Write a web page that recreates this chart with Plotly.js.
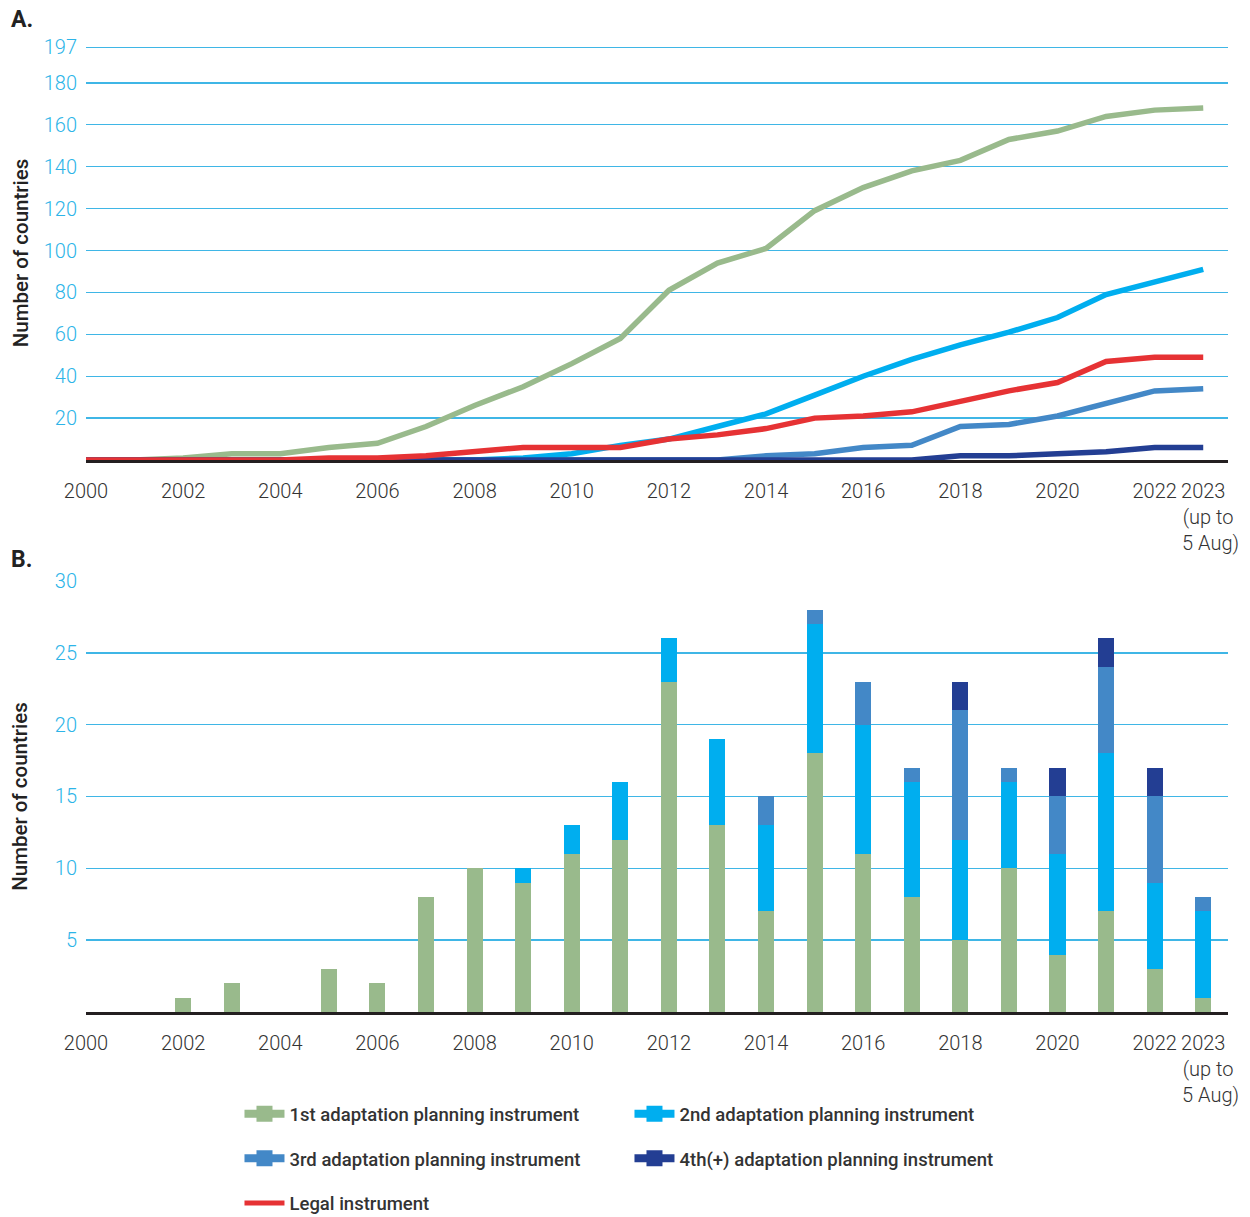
<!DOCTYPE html>
<html><head><meta charset="utf-8">
<script src="https://cdn.plot.ly/plotly-3.0.1.min.js"></script>
<style>body{margin:0;background:#fff}#chart{width:1250px;height:1217px}</style>
</head><body><div id="chart"></div>
<script>
// ---------- data ----------
const years = [2000,2001,2002,2003,2004,2005,2006,2007,2008,2009,2010,2011,2012,2013,2014,2015,2016,2017,2018,2019,2020,2021,2022,2023];

// Panel A: cumulative number of countries
const firstCum  = [0,0,1,3,3,6,8,16,26,35,46,58,81,94,101,119,130,138,143,153,157,164,167,168];
const secondCum = [0,0,0,0,0,0,0,0,0,1,3,7,10,16,22,31,40,48,55,61,68,79,85,91];
const thirdCum  = [0,0,0,0,0,0,0,0,0,0,0,0,0,0,2,3,6,7,16,17,21,27,33,34];
const fourthCum = [0,0,0,0,0,0,0,0,0,0,0,0,0,0,0,0,0,0,2,2,3,4,6,6];
const legalCum  = [0,0,0,0,0,1,1,2,4,6,6,6,10,12,15,20,21,23,28,33,37,47,49,49];

// Panel B: new instruments per year
const firstNew  = [0,0,1,2,0,3,2,8,10,9,11,12,23,13,7,18,11,8,5,10,4,7,3,1];
const secondNew = [0,0,0,0,0,0,0,0,0,1,2,4,3,6,6,9,9,8,7,6,7,11,6,6];
const thirdNew  = [0,0,0,0,0,0,0,0,0,0,0,0,0,0,2,1,3,1,9,1,4,6,6,1];
const fourthNew = [0,0,0,0,0,0,0,0,0,0,0,0,0,0,0,0,0,0,2,0,2,2,2,0];

const xTickVals = [2000,2002,2004,2006,2008,2010,2012,2014,2016,2018,2020,2022,2023];
const xTickText = ['2000','2002','2004','2006','2008','2010','2012','2014','2016','2018','2020','2022',
  '2023<br>\u00a0\u00a0(up to<br>\u00a0\u00a0\u00a05 Aug)'];
const yTickValsA = [20,40,60,80,100,120,140,160,180,197];
const yTickValsB = [5,10,15,20,25,30];

const names = {
  first: '1st adaptation planning instrument',
  second: '2nd adaptation planning instrument',
  third: '3rd adaptation planning instrument',
  fourth: '4th(+) adaptation planning instrument',
  legal: 'Legal instrument'
};
const colors = {first:'#99ba8c', second:'#00aeef', third:'#4388c7', fourth:'#233e93', legal:'#e63234'};

// ---------- traces ----------
function line(y, key){
  return {type:'scatter', mode:'lines', x:years, y:y, name:names[key], showlegend:false,
    line:{color:colors[key], width:5.5}, cliponaxis:false, xaxis:'x', yaxis:'y', hoverinfo:'x+y'};
}
function bar(y, key){
  return {type:'bar', x:years, y:y, name:names[key], showlegend:false, width:0.33,
    marker:{color:colors[key], line:{width:0}}, xaxis:'x2', yaxis:'y2'};
}
function legendItem(key, legend, withMarker){
  return {type:'scatter', x:[null], y:[null], name:names[key], legend:legend, legendgroup:key,
    mode: withMarker ? 'lines+markers' : 'lines',
    marker:{symbol:'square', size:16, color:colors[key]},
    line:{color:colors[key], width: withMarker ? 8 : 5}, xaxis:'x', yaxis:'y', hoverinfo:'skip'};
}

const data = [
  line(firstCum,'first'), line(thirdCum,'third'), line(secondCum,'second'),
  line(fourthCum,'fourth'), line(legalCum,'legal'),
  bar(firstNew,'first'), bar(secondNew,'second'), bar(thirdNew,'third'), bar(fourthNew,'fourth'),
  legendItem('first','legend',true), legendItem('third','legend',true), legendItem('legal','legend',false),
  legendItem('second','legend2',true), legendItem('fourth','legend2',true)
];

const fontFam = 'Roboto, "Noto Sans", sans-serif';
const xCommon = {
  range:[2000, 2023.51], showgrid:false, zeroline:false, showline:true, linecolor:'#231f20', linewidth:3,
  tickmode:'array', tickvals:xTickVals, ticktext:xTickText, ticks:'', ticklabelstandoff:11, tickangle:0,
  automargin:false, tickfont:{family:fontFam, size:20, color:'#333', weight:300}, fixedrange:true
};
const yCommon = {
  showgrid:true, gridcolor:'#3fb6e6', gridwidth:1.4, zeroline:false, showline:false, ticks:'',
  automargin:false, tickfont:{family:fontFam, size:20, color:'#2cb4e8', weight:300}, ticklabelstandoff:8, fixedrange:true
};
const legendCommon = {
  orientation:'v', xanchor:'left', yanchor:'top', bgcolor:'rgba(0,0,0,0)', itemwidth:40,
  font:{family:fontFam, size:18.5, color:'#333', weight:500}, tracegroupgap:17.5, itemclick:false, itemdoubleclick:false
};

const layout = {
  width:1250, height:1217, paper_bgcolor:'#fff', plot_bgcolor:'#fff',
  margin:{l:86, r:22, t:46, b:205, autoexpand:false},
  font:{family:fontFam},
  barmode:'stack', bargap:0,
  xaxis: Object.assign({}, xCommon, {anchor:'y'}),
  yaxis: Object.assign({}, yCommon, {domain:[0.5714,1], range:[0,197.6], tickvals:yTickValsA,
    title:{text:'Number of countries', standoff:9, font:{family:fontFam, size:20.5, color:'#222', weight:500}}}),
  xaxis2: Object.assign({}, xCommon, {anchor:'y2'}),
  yaxis2: Object.assign({}, yCommon, {domain:[0,0.4462], range:[0,30], tickvals:yTickValsB,
    title:{text:'Number of countries', standoff:21, font:{family:fontFam, size:20.5, color:'#222', weight:500}}}),
  legend: Object.assign({}, legendCommon, {x:0.1344, y:-0.0862}),
  legend2: Object.assign({}, legendCommon, {x:0.4759, y:-0.0862}),
  annotations:[
    {text:'A.', xref:'paper', yref:'paper', x:-0.067, y:1.027, xanchor:'left', yanchor:'middle', showarrow:false,
     font:{family:fontFam, size:23, color:'#222', weight:700}},
    {text:'B.', xref:'paper', yref:'paper', x:-0.067, y:0.468, xanchor:'left', yanchor:'middle', showarrow:false,
     font:{family:fontFam, size:23, color:'#222', weight:700}}
  ]
};

Plotly.newPlot('chart', data, layout, {displayModeBar:false, staticPlot:true});
</script></body></html>
